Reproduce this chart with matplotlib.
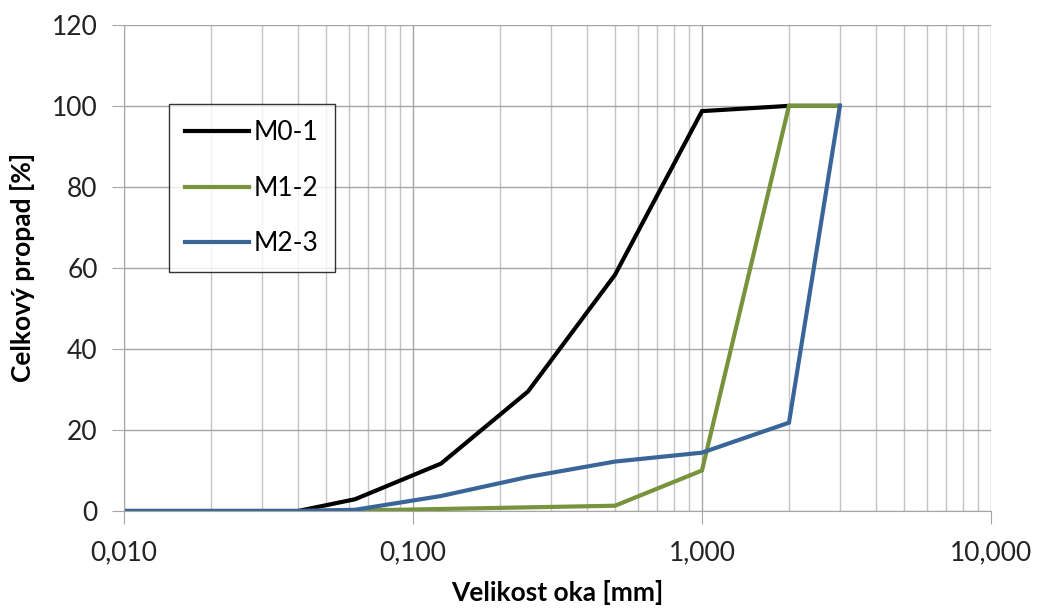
import matplotlib.pyplot as plt
from matplotlib.ticker import FixedLocator, LogLocator, NullFormatter

plt.rcParams['font.family'] = ['Lato', 'DejaVu Sans']

# velikost oka [mm]
oka = [0.01, 0.04, 0.063, 0.125, 0.25, 0.5, 1, 2, 3]
m01 = [0, 0, 2.9, 11.7, 29.5, 58.3, 98.7, 100, 100]
m12 = [0, 0, 0.1, 0.5, 0.9, 1.3, 10, 100, 100]
m23 = [0, 0, 0.3, 3.7, 8.4, 12.2, 14.4, 21.8, 100]

labels = ['M0-1', 'M1-2', 'M2-3']
colors = ['black', '#77933C', '#3A6598']
xticks = [0.01, 0.1, 1, 10]
xticklabels = ['0,010', '0,100', '1,000', '10,000']

fig = plt.figure(figsize=(10.37, 6.10), dpi=100)
ax = fig.add_axes([0.1196, 0.1623, 0.836, 0.797])

for y, lab, c in zip([m01, m12, m23], labels, colors):
    ax.plot(oka, y, color=c, linewidth=3, label=lab, solid_joinstyle='miter')

ax.set_xscale('log')
ax.set_xlim(0.01, 10)
ax.set_ylim(0, 120)
ax.xaxis.set_major_locator(FixedLocator(xticks))
ax.set_xticklabels(xticklabels)
ax.xaxis.set_minor_locator(LogLocator(base=10, subs=range(2, 10)))
ax.xaxis.set_minor_formatter(NullFormatter())
ax.set_yticks(range(0, 121, 20))

ax.grid(True, which='major', color='#a6a6a6', linewidth=1)
ax.grid(True, which='minor', axis='x', color='#c4c4c4', linewidth=1)
ax.set_axisbelow(True)
for s in ['top', 'right']:
    ax.spines[s].set_visible(False)
for s in ['left', 'bottom']:
    ax.spines[s].set_color('#a6a6a6')
ax.tick_params(axis='both', which='major', length=9, color='#a6a6a6',
               labelsize=19, labelcolor='#222222')
ax.tick_params(axis='y', pad=10)
ax.tick_params(axis='x', pad=12)
ax.tick_params(axis='x', which='minor', length=0)

ax.set_xlabel('Velikost oka [mm]', fontsize=19, fontweight='bold', labelpad=11)
ax.set_ylabel('Celkový propad [%]', fontsize=19, fontweight='bold', labelpad=12)

leg = ax.legend(loc='upper left', bbox_to_anchor=(0.052, 0.837), fontsize=19,
                frameon=True, fancybox=False, edgecolor='black',
                handlelength=2.4, labelspacing=1.15, borderpad=0.62,
                handletextpad=0.2, borderaxespad=0)
leg.get_frame().set_linewidth(1)

plt.savefig('out.png', dpi=100)
